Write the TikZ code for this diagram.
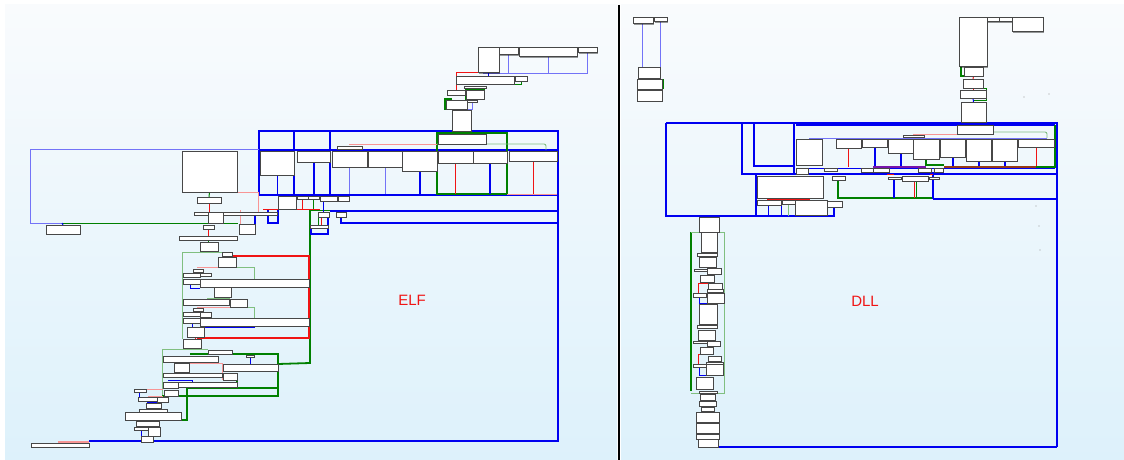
\documentclass[tikz,border=0pt]{standalone}
\usepackage{fontspec}
\newfontfamily\lblfont{Liberation Sans}
\usetikzlibrary{shadows}
\definecolor{bgtop}{RGB}{249,251,253}
\definecolor{bgbot}{RGB}{221,241,251}
\definecolor{cfgred}{RGB}{240,20,20}
\definecolor{cfggreen}{RGB}{0,128,0}
\definecolor{cfgblue}{RGB}{0,0,240}
\definecolor{cfgpurple}{RGB}{120,20,170}
\definecolor{cfgbrown}{RGB}{150,60,20}
\pgfdeclarelayer{bg}
\pgfdeclarelayer{edges}
\pgfsetlayers{bg,edges,main}

\begin{document}
\begin{tikzpicture}[x=1pt, y=-1pt,
  blk/.style={draw=black!72, fill=white, line width=1pt, inner sep=0pt, outer sep=0pt,
    anchor=north west, drop shadow={shadow xshift=1.3pt, shadow yshift=-1.3pt, fill=black, opacity=0.4}},
  eb/.style={draw=cfgblue, line width=1pt},
  ebt/.style={draw=cfgblue, line width=2pt},
  ebl/.style={draw=cfgblue!55, line width=0.9pt},
  eg/.style={draw=cfggreen, line width=1pt},
  egt/.style={draw=cfggreen, line width=1.8pt},
  egl/.style={draw=cfggreen!50, line width=0.9pt},
  er/.style={draw=cfgred, line width=1pt},
  erl/.style={draw=cfgred!45, line width=0.9pt},
  lbl/.style={text=cfgred, font=\lblfont\fontsize{15}{18}\selectfont, inner sep=0pt}]
  \useasboundingbox (0,0) rectangle (1124,460);
  \begin{pgfonlayer}{bg}
    \fill[white] (0,0) rectangle (1124,460);
    \shade[top color=bgtop, bottom color=bgbot] (5,5) rectangle (617,460);
    \shade[top color=bgtop, bottom color=bgbot] (621,5) rectangle (1124,460);
  \end{pgfonlayer}
  \draw[line width=2pt] (618.5,5) -- (618.5,460);

  % ELF blocks
  \foreach \n/\a/\b/\c/\d in {e1/478/48/499/73, e2/499/48/518/55, e3/519/48/577/57, e4/578/48/597/53,
      e5/456/76/514/84, e6/515/76/527/81, e7/464/86/486/88, e8/447/90/465/95, e9/466/90/484/99,
      e10/467/100/477/102, e11/446/100/467/109, e12/452/110/471/131, e13/438/134/486/144,
      e14/260/151/294/175, e15/297/151/330/162, e16/332/151/367/167, e17/368/151/402/167,
      e18/402/151/437/171, e19/438/151/473/163, e20/473/151/507/163, e21/509/151/557/161,
      e22/337/146/362/149, e23/182/151/237/192, e24/197/197/221/203, e25/194/212/277/215,
      e26/208/212/223/223, e27/203/225/214/229, e28/239/224/255/234, e29/46/225/80/234,
      e30/179/236/237/240, e31/278/196/296/209, e32/297/196/308/199, e33/308/196/319/199,
      e34/320/196/337/201, e35/338/196/349/201, e36/318/212/329/217, e37/336/212/346/217,
      e38/310/225/328/228, e39/200/242/218/251, e40/222/252/232/256, e41/218/257/236/267,
      e42/193/269/203/272, e43/183/273/200/277, e44/200/273/211/276, e45/183/279/200/284,
      e46/200/279/309/287, e47/214/287/231/297, e48/183/299/229/305, e49/230/299/247/307,
      e50/193/308/203/311, e51/183/312/200/316, e52/200/312/211/317, e53/183/318/200/323,
      e54/200/318/309/326, e55/187/327/204/337, e56/183/339/201/348, e57/208/350/232/354,
      e58/163/356/218/362, e59/246/355/254/357, e60/174/363/189/372, e61/223/364/278/371,
      e62/163/373/222/377, e63/223/373/237/380, e64/163/382/178/388, e65/178/382/237/387,
      e66/164/390/178/396, e67/134/389/146/392, e68/138/397/157/401, e69/157/397/168/402,
      e70/146/403/161/408, e71/139/409/167/412, e72/125/412/181/420, e73/136/421/159/426,
      e74/134/427/148/430, e75/148/427/160/436, e76/141/436/153/442, e77/31/443/89/447}
    \node[blk, minimum width={(\c-\a)*1pt}, minimum height={(\d-\b)*1pt}] (\n) at (\a,\b) {};

  % DLL blocks
  \foreach \n/\a/\b/\c/\d in {d1/633/18/653/24, d2/654/18/667/22, d3/638/68/660/78, d4/637/79/662/89,
      d5/637/90/662/101, d6/959/18/987/67, d7/987/18/999/22, d8/999/18/1012/22, d9/1012/18/1043/32,
      d10/964/68/983/76, d11/963/79/983/88, d12/960/90/986/98, d13/961/102/986/122,
      d14/957/125/993/134, d15/903/135/924/137, d16/796/139/822/165, d17/836/139/861/148,
      d18/862/139/887/147, d19/888/139/913/153, d20/913/139/939/159, d21/940/139/965/157,
      d22/966/139/991/161, d23/992/139/1017/161, d24/1018/139/1054/147, d25/796/168/808/174,
      d26/824/168/837/171, d27/861/168/873/172, d28/873/168/889/172, d29/918/168/931/172,
      d30/934/168/943/172, d31/832/176/845/180, d32/888/177/901/179, d33/902/176/928/181,
      d34/929/177/939/179, d35/757/176/823/198, d36/757/200/781/205, d37/782/200/795/204,
      d38/795/200/827/215, d39/827/201/842/207, d40/699/217/719/232, d41/701/232/717/252,
      d42/697/253/717/256, d43/699/257/716/267, d44/694/269/707/271, d45/707/268/721/274,
      d46/700/275/714/282, d47/708/283/722/289, d48/707/289/723/292, d49/693/293/706/297,
      d50/707/293/724/303, d51/699/304/717/324, d52/697/325/717/328, d53/698/330/715/340,
      d54/693/341/707/343, d55/707/341/720/346, d56/700/347/713/354, d57/708/356/721/361,
      d58/706/362/723/364, d59/693/364/706/367, d60/706/364/723/375, d61/696/377/713/389,
      d62/699/391/717/393, d63/700/394/715/400, d64/699/401/716/406, d65/701/407/714/411,
      d66/696/412/719/422, d67/696/423/719/433, d68/696/434/719/439, d69/698/439/718/447}
    \node[blk, minimum width={(\c-\a)*1pt}, minimum height={(\d-\b)*1pt}] (\n) at (\a,\b) {};

  \node[lbl] (elf) at (412,300) {ELF};
  \node[lbl] (dll) at (865,301) {DLL};

  \begin{pgfonlayer}{edges}
    % ELF
    \draw[ebl] (e2.south) -- (508.5,73) (e3.south) -- (548,73) (e4.south) -- (587.5,73);
    \draw[ebl] (483,73) -- (587.5,73);
    \draw[eb] (e1.south) -- (e1.south |- e5.north);
    \draw[er] (e1.south west) -| (e8.north);
    \draw[eg] (e6.south) |- (e5.south east);
    \draw[egt] (e9.north west) rectangle (e9.south east);
    \draw[egt] (452,99) -| (445,109) -- (e11.south west);
    \draw[ebl] (e10.south) |- (e11.south east);
    \draw[eb] (e12.south) -- (e13.north);
    \draw[ebt] (259,131) rectangle (558,195);
    \draw[ebt] (294,131) -- (294,195) (330,131) -- (330,195) (437,131) -- (437,195);
    \draw[ebt] (260,150) -- (557,150);
    \draw[ebl] (259,149) -- (30,149) -- (30,223) -- (62,223);
    \draw[eg] (62,223) -- (238,223);
    \draw[eb] (62,223) -- (e29.north);
    \draw[egt] (437,133) rectangle (507,194);
    \draw[erl] (349,144) -- (437,144);
    \draw[egl, rounded corners=2pt] (437,144) -- (546,144) -- (546,150);
    \draw[eb] (e22.south) -- (349.5,150);
    \draw[eb] (e14.south) -- (277,194);
    \draw[ebt] (e15.south) -- (313.5,194);
    \draw[ebl] (e16.south) -- (349.5,194);
    \draw[ebl] (e17.south) -- (385,194);
    \draw[ebt] (e18.south) -- (419.5,194);
    \draw[er] (e19.south) -- (455.5,194);
    \draw[ebt] (e20.south) -- (490,194);
    \draw[er] (e21.south) -- (533,194);
    \draw[erl] (507,194) -- (557,194);
    \draw[ebt] (558,195) -- (558,441) -- (89,441);
    \draw[ebt] (330,211) -- (558,211);
    \draw[ebt] (e37.south) |- (558,223);
    \draw[erl] (e23.south east) -- (258,192) -- (258,212);
    \draw[er] (263,209) -- (320,209);
    \draw[ebt] (268,210) -- (268,223) -- (278,223) -- (278,210);
    \draw[egt] (310,210) -- (310,363) -- (e61.north east);
    \draw[eg] (310,210) -- (330,210);
    \draw[er] (302,199) -- (302,209);
    \draw[eg] (313,199) -- (313,209);
    \draw[eb] (e36.north) -- (e36.north |- e34.south);
    \draw[ebt] (311,228) -- (311,234) -- (328,234) -- (328,217);
    \draw[eg] (318,217) -- (318,225);
    \draw[er] (321,217) -- (321,225);
    \draw[ebt] (255,212) -- (255,234) -- (246,234);
    \draw[erl] (240,210) -- (240,224);
    \draw[eg] (e23.south) -- (e24.north);
    \draw[er] (209,203) -- (209,212);
    \draw[er] (e27.south) -- (e27.south |- e30.north);
    \draw[eg] (e30.south) -- (e30.south |- e39.north);
    \draw[egl] (182,339) -- (182,252) -- (222,252);
    \draw[er, line width=1.3pt] (232,256) -- (309,256) -- (309,338) -- (197,338);
    \draw[erl] (197,267) -- (218,267);
    \draw[egl] (236,267) -- (254,267) -- (254,280);
    \draw[egl] (207,298) -- (230,298);
    \draw[erl] (197,307) -- (238,307);
    \draw[egl] (247,307) -- (254,307) -- (254,318);
    \draw[eb] (190,284) -- (190,288) -- (200,288);
    \draw[eb] (192,323) -- (192,327) -- (255,327);
    \draw[er] (e55.south) -- (e55.south |- e56.north);
    \draw[egl] (208,349) -- (162,349) -- (162,396);
    \draw[egt] (190,354) -- (278,354) -- (278,396) -- (162,396);
    \draw[egt] (181,420) -- (187,420) -- (187,388) -- (278,388);
    \draw[egt] (237,373) -- (237,387);
    \draw[erl] (189,363) -- (222,363) -- (222,380);
    \draw[er] (237,371) -- (250,371);
    \draw[eb] (e59.south) -- (250,364);
    \draw[eb] (168,380) -- (192,380) -- (192,382);
    \draw[erl] (139,389) -- (163,389);
    \draw[eb] (139,392) -- (139,397);
    \draw[erl] (148,396) -- (163,396);
    \draw[ebt] (147,402) -- (160,402);
    \draw[egt] (150,410) -- (166,410);
    \draw[er] (141,426) -- (155,426);
    \draw[eb] (141,430) -- (141,436);
    \draw[erl, line width=1.5pt] (58,442) -- (89,442);
    \draw[ebt] (58,447) -- (89,447);
    % DLL
    \draw[ebl] (642,24) -- (642,67) -- (660,67) -- (660,22);
    \draw[eb] (649,67) -- (d3.north);
    \draw[er] (d3.south) -- (d4.north);
    \draw[eb] (d4.south) -- (d5.north);
    \draw[eg] (663,79) -- (663,89);
    \draw[egt] (961,67) |- (d10.south west);
    \draw[er] (d10.south) -- (d11.north);
    \draw[er] (d11.south) -- (d12.north);
    \draw[eg] (973,88) -- (986,88) -- (986,100) -- (973,100);
    \draw[eb] (d12.south) -- (d13.north);
    \draw[eb] (d13.south) -- (d14.north);
    \draw[ebt] (666,123) -- (1057,123) -- (1057,447);
    \draw[ebt] (666,123) -- (666,216) -- (834,216) -- (834,207);
    \draw[ebt] (933,199) -- (1057,199);
    \draw[ebt] (742,123) -- (742,174) -- (1057,174);
    \draw[ebt] (754,123) -- (754,166) -- (794,166);
    \draw[ebt] (794,123) -- (794,174);
    \draw[ebt] (796,125) -- (1055,125);
    \draw[eb] (796,168) -- (1055,168);
    \draw[egt] (1055,125) -- (1055,168);
    \draw[ebl] (809,138) -- (1047,138);
    \draw[erl] (913,134) -- (957,134);
    \draw[egl, rounded corners=2pt] (993,132) -- (1047,132) -- (1047,138);
    \draw[er] (d17.south) -- (848.5,167);
    \draw[ebt] (d18.south) -- (874.5,167);
    \draw[ebt] (d19.south) -- (900.5,167);
    \draw[egt] (d20.south) -- (926,165) -- (944,165);
    \draw[ebt] (d21.south) -- (952.5,167);
    \draw[ebt] (d22.south) -- (978.5,167);
    \draw[ebt] (d23.south) -- (1004.5,167);
    \draw[er] (1036,147) -- (1036,166);
    \draw[draw=cfgpurple, line width=1.4pt] (873,167) -- (926,167);
    \draw[draw=cfgbrown, line width=1.2pt] (944,167) -- (1036,167);
    \draw[egt] (1036,167) -- (1055,167);
    \draw[ebt] (756,174) -- (756,216);
    \draw[eb] (768,205) -- (768,216) (781,205) -- (781,216);
    \draw[egl] (788,204) -- (788,216);
    \draw[er] (767,199) -- (810,199);
    \draw[egt] (d31.south west -| 838,0) -- (838,198) -- (933,198);
    \draw[ebt] (894,179) -- (894,198);
    \draw[er] (914,181) -- (914,198);
    \draw[eg] (916,181) -- (916,198);
    \draw[ebt] (933,172) -- (933,199);
    \draw[er] (887,174) -- (894,174) (930,174) -- (933,174);
    \draw[egt] (691,232) -- (691,391);
    \draw[egl] (691,232) -- (724,232) -- (724,393) -- (691,393);
    \draw[er] (708,283) -- (698,283) -- (698,293);
    \draw[er] (708,354) -- (698,354) -- (698,364);
    \draw[eb] (699,297) -- (699,303) -- (707,303);
    \draw[eb] (699,367) -- (699,375) -- (706,375);
    \draw[eg] (719,412) -- (719,439);
    \draw[ebt] (d69.south) -- (1057,447);
    \fill[black!40] (1024,97) circle (0.7) (1049,94) circle (0.7) (1036,206) circle (0.7)
      (1039,226) circle (0.7) (1040,250) circle (0.7);
  \end{pgfonlayer}
\end{tikzpicture}
\end{document}
